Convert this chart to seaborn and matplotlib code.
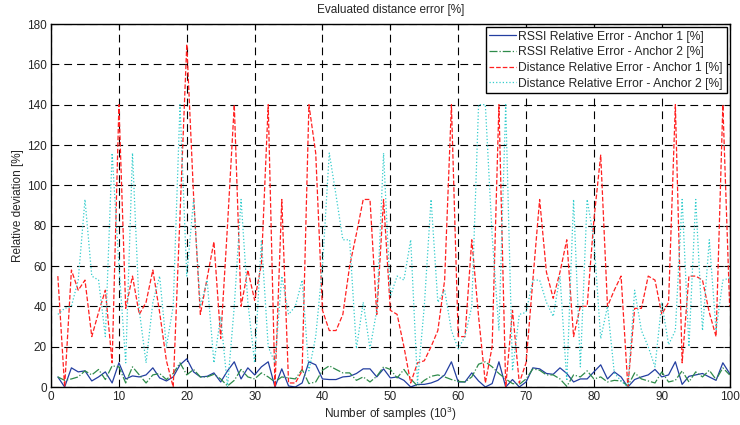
"""
Evaluated distance error - RSSI vs distance relative error for two anchors
"""

import numpy as np
import pandas as pd
import matplotlib
matplotlib.use('Agg')
import matplotlib.pyplot as plt
import seaborn as sns

samples = np.arange(1, 101)

rssi_anchor1 = [5, 0, 9.5, 7.5, 8, 3, 5, 7.5, 2, 12,
                4, 5.5, 5, 6, 9.5, 4.5, 3, 5, 11, 14,
                7.5, 5, 5.3, 7, 2.5, 8, 12.5, 4, 9.5, 6,
                10, 12.5, 0, 9, 0.5, 0, 2, 12.5, 11, 4,
                3.7, 3.7, 5, 5.3, 6.7, 9, 9, 5, 9, 4.5,
                5, 3.3, 0, 1.3, 1.3, 2, 3.3, 6, 12.5, 2.5,
                2.5, 7, 3, 0, 1.7, 12.5, 0, 3.7, 0, 2.5,
                9.5, 9, 6.7, 6.3, 9.5, 6.7, 2.5, 4, 4, 7.5,
                11, 4, 7.5, 5, 0, 3.7, 5, 6, 8.7, 5,
                6, 12.5, 1.3, 5.3, 6, 6.7, 5, 3.3, 12, 6.7]

rssi_anchor2 = [5, 3.3, 4, 5, 8, 6, 8.7, 3.7, 10.5, 10,
                2, 10, 6, 2, 6, 6.7, 3.7, 6.7, 12, 6,
                8.7, 5, 5, 6.3, 4, 0.5, 3.3, 8.7, 5, 4,
                7, 5, 2.5, 5, 4.5, 4, 8.7, 1.7, 2.5, 8.3,
                10.5, 8.7, 7, 7, 3.3, 5, 2.5, 5.3, 10, 8.7,
                4.5, 8.7, 4, 0.5, 3.3, 5.3, 6, 5, 3.7, 2.8,
                2.5, 5, 11.3, 12.5, 10, 6.7, 4, 1.7, 1.3, 4,
                9, 8.3, 6, 6, 4, 0.3, 6, 5, 8, 4,
                5, 2.5, 3.3, 3, 0.5, 7, 4, 3, 2, 7.5,
                2.5, 3.3, 8, 2.5, 7.5, 5, 8.3, 3.7, 9.5, 6]

dist_anchor1 = [55, 0, 58, 48, 53, 25, 37, 48, 12, 140,
                39, 55, 36, 42, 58, 37, 13, 0, 85, 170,
                95, 36, 54, 72, 24, 80, 140, 40, 58, 43,
                61, 140, 0, 93, 2, 2, 8, 140, 116, 38,
                28, 28, 36, 60, 76, 93, 93, 36, 93, 38,
                36, 20, 2, 12, 13, 20, 28, 53, 140, 25,
                25, 73, 35, 2, 20, 140, 0, 38, 2, 12,
                53, 93, 57, 44, 57, 73, 25, 40, 40, 83,
                115, 40, 48, 55, 0, 39, 39, 55, 53, 36,
                42, 140, 12, 55, 55, 53, 37, 25, 140, 40]

dist_anchor2 = [36, 39, 40, 53, 93, 55, 53, 25, 116, 60,
                12, 116, 38, 12, 42, 55, 20, 40, 140, 55,
                93, 40, 53, 12, 35, 0, 40, 93, 42, 12,
                73, 20, 12, 55, 36, 40, 53, 8, 25, 60,
                116, 95, 73, 73, 19, 42, 19, 38, 116, 45,
                55, 53, 73, 2, 40, 93, 42, 48, 28, 19,
                25, 40, 140, 140, 75, 28, 140, 8, 36, 37,
                53, 53, 42, 35, 55, 3, 93, 10, 93, 73,
                24, 40, 7, 3, 0, 48, 28, 20, 10, 42,
                21, 28, 93, 20, 93, 28, 73, 28, 53, 54]

labels = ['RSSI Relative Error - Anchor 1 [%]',
          'RSSI Relative Error - Anchor 2 [%]',
          'Distance Relative Error - Anchor 1 [%]',
          'Distance Relative Error - Anchor 2 [%]']

df = pd.DataFrame({
    'sample': samples,
    'rssi1': rssi_anchor1,
    'rssi2': rssi_anchor2,
    'dist1': dist_anchor1,
    'dist2': dist_anchor2,
})

sns.set_style('white')
plt.rcParams['font.family'] = ['Liberation Sans', 'DejaVu Sans']
plt.rcParams['mathtext.fontset'] = 'custom'
plt.rcParams['mathtext.rm'] = 'Liberation Sans'

fig = plt.figure(figsize=(7.4, 4.25), dpi=100)
ax = fig.add_axes([0.069, 0.0894, 0.917, 0.8541])

styles = [
    ('rssi1', '#233ea0', '-', labels[0]),
    ('rssi2', '#2e8b4a', '-.', labels[1]),
    ('dist1', '#ff2020', '--', labels[2]),
    ('dist2', '#33cccc', ':', labels[3]),
]
for col, color, ls, lab in styles:
    sns.lineplot(data=df, x='sample', y=col, ax=ax, color=color,
                 linestyle=ls, linewidth=0.9, label=lab)

ax.set_xlim(0, 100)
ax.set_ylim(0, 180)
ax.set_xticks(np.arange(0, 101, 10))
ax.set_yticks(np.arange(0, 181, 20))
ax.grid(True, color='black', linestyle=(0, (7, 4.5)), linewidth=0.8)
ax.tick_params(direction='in', length=4, labelsize=8.5, top=True, right=True,
               color='black', pad=3)
for s in ax.spines.values():
    s.set_color('black')
    s.set_linewidth(1.0)

ax.set_title('Evaluated distance error [%]', fontsize=8.5, pad=8)
ax.set_xlabel('Number of samples (10$^3$)', fontsize=8.5, labelpad=1)
ax.set_ylabel('Relative deviation [%]', fontsize=8.5, labelpad=2)

leg = ax.legend(loc='upper right', fontsize=8.7, frameon=True, fancybox=False,
                borderaxespad=0.25, handlelength=2.2, labelspacing=0.3,
                borderpad=0.3, handletextpad=0.2)
leg.get_frame().set_edgecolor('black')
leg.get_frame().set_linewidth(1.0)
leg.get_frame().set_alpha(1.0)

plt.savefig('out.png', dpi=100)
plt.close()
